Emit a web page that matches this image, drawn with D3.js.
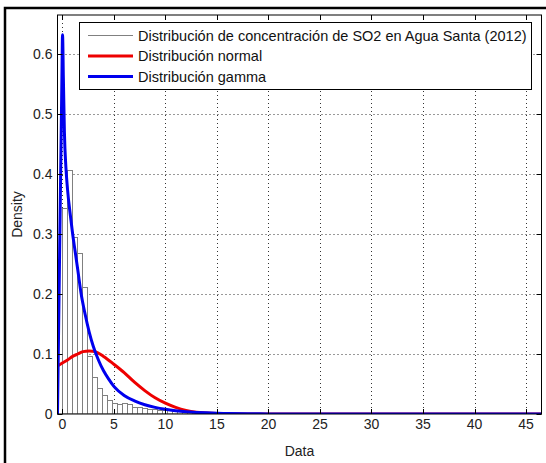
<!DOCTYPE html>
<html>
<head>
<meta charset="utf-8">
<script src="https://cdn.jsdelivr.net/npm/d3@7"></script>
<style>
  html, body { margin: 0; padding: 0; background: #fff; }
  svg { display: block; }
  text { font-family: "Liberation Sans", Arial, sans-serif; }
</style>
</head>
<body>
<svg id="chart" width="546" height="463"></svg>
<script>
// ---------- data ----------
const binStart = 0;
const binWidth = 0.485;
const binHeights = [0.343, 0.406, 0.295, 0.268, 0.211, 0.097, 0.062, 0.044, 0.031, 0.024,
  0.019, 0.016, 0.018, 0.016, 0.012, 0.011, 0.010, 0.009, 0.008, 0.0075,
  0.007, 0.006, 0.005, 0.0045, 0.004, 0.003, 0.0025, 0.002, 0.0015, 0.001,
  0.001, 0.0008, 0.0012, 0.0006, 0.0008, 0.0004];

const normalX = [-0.47, 0, 0.5, 1, 1.5, 2, 2.6, 3.2, 4, 5, 6, 7, 8, 9, 10, 11, 12, 13, 14, 15, 16, 18, 46.5];
const normalY = [0.080, 0.085, 0.090, 0.096, 0.100, 0.104, 0.105, 0.104, 0.096, 0.083, 0.069, 0.053, 0.039, 0.027, 0.018, 0.011, 0.006, 0.003, 0.0016, 0.0008, 0.0003, 0.0001, 0];

const gammaX = [-0.47, -0.05, 0.02, 0.1, 0.2, 0.35, 0.5, 0.75, 1.0, 1.25, 1.5, 1.8, 2.2, 2.6, 3.0, 3.5, 4, 4.5, 5, 6, 7, 8, 9, 10, 11, 12, 13, 14, 15, 16, 18, 20, 46.5];
const gammaY = [0, 0.55, 0.632, 0.56, 0.47, 0.41, 0.375, 0.335, 0.30, 0.27, 0.24, 0.203, 0.167, 0.137, 0.113, 0.09, 0.072, 0.058, 0.046, 0.031, 0.022, 0.0155, 0.011, 0.0078, 0.0055, 0.0038, 0.0027, 0.0019, 0.0013, 0.0009, 0.0004, 0.0002, 0];

const xTicks = [0, 5, 10, 15, 20, 25, 30, 35, 40, 45];
const yTicks = [0, 0.1, 0.2, 0.3, 0.4, 0.5, 0.6];
const legendLabels = ["Distribución de concentración de SO2 en Agua Santa (2012)", "Distribución normal", "Distribución gamma"];
const xLabel = "Data";
const yLabel = "Density";

// ---------- layout ----------
const svg = d3.select("#chart");
const L = 57.5, R = 541.5, T = 15, B = 414;
const x = d3.scaleLinear().domain([-0.47, 46.5]).range([L, R]);
const y = d3.scaleLinear().domain([0, 0.665]).range([B, T]);
const fontSize = 14;
const legendFont = 14.5;

// outer frame
svg.append("rect").attr("x", 0).attr("y", 0).attr("width", 546).attr("height", 463).attr("fill", "#fff");
svg.append("path").attr("d", "M5,470 L5,8 L560,8").attr("fill", "none").attr("stroke", "#000").attr("stroke-width", 2.5);

// axes background
svg.append("rect").attr("x", L).attr("y", T).attr("width", R - L).attr("height", B - T).attr("fill", "#fff");

// grid
const grid = svg.append("g").attr("stroke", "#333").attr("stroke-width", 1).attr("stroke-dasharray", "1,3");
grid.selectAll("line.gx").data(xTicks).join("line")
  .attr("x1", d => Math.round(x(d)) + 0.5).attr("x2", d => Math.round(x(d)) + 0.5)
  .attr("y1", T).attr("y2", B);
grid.selectAll("line.gy").data(yTicks.filter(d => d > 0)).join("line")
  .attr("y1", d => Math.round(y(d)) + 0.5).attr("y2", d => Math.round(y(d)) + 0.5)
  .attr("x1", L).attr("x2", R);

// clip
svg.append("clipPath").attr("id", "clip").append("rect")
  .attr("x", L).attr("y", T).attr("width", R - L).attr("height", B - T);
const plot = svg.append("g").attr("clip-path", "url(#clip)");

// histogram bars
const bins = binHeights.map((h, i) => ({ x0: binStart + i * binWidth, x1: binStart + (i + 1) * binWidth, h }));
plot.selectAll("rect.bar").data(bins).join("rect")
  .attr("x", d => Math.round(x(d.x0)) + 0.5)
  .attr("width", d => Math.round(x(d.x1)) - Math.round(x(d.x0)))
  .attr("y", d => Math.round(y(d.h)) + 0.5)
  .attr("height", d => Math.max(0, B - Math.round(y(d.h)) - 0.5))
  .attr("fill", "#fff").attr("stroke", "#808080").attr("stroke-width", 1);

// curves
const line = d3.line().x(d => x(d[0])).y(d => y(d[1])).curve(d3.curveMonotoneX);
plot.append("path").datum(normalX.map((v, i) => [v, normalY[i]]))
  .attr("d", line).attr("fill", "none").attr("stroke", "#ee0000").attr("stroke-width", 3).attr("stroke-linejoin", "round");
plot.append("path").datum(gammaX.map((v, i) => [v, gammaY[i]]))
  .attr("d", line).attr("fill", "none").attr("stroke", "#0000ee").attr("stroke-width", 3).attr("stroke-linejoin", "round");

// axes box
svg.append("rect").attr("x", L).attr("y", T).attr("width", R - L).attr("height", B - T)
  .attr("fill", "none").attr("stroke", "#000").attr("stroke-width", 1);

// ticks (inward on all sides)
const tk = 5;
const ticks = svg.append("g").attr("stroke", "#000").attr("stroke-width", 1);
xTicks.forEach(d => {
  const px = Math.round(x(d)) + 0.5;
  ticks.append("line").attr("x1", px).attr("x2", px).attr("y1", B).attr("y2", B - tk);
  ticks.append("line").attr("x1", px).attr("x2", px).attr("y1", T).attr("y2", T + tk);
});
yTicks.forEach(d => {
  const py = Math.round(y(d)) + 0.5;
  ticks.append("line").attr("y1", py).attr("y2", py).attr("x1", L).attr("x2", L + tk);
  ticks.append("line").attr("y1", py).attr("y2", py).attr("x1", R).attr("x2", R - tk);
});

// tick labels
svg.append("g").selectAll("text").data(xTicks).join("text")
  .attr("x", d => x(d)).attr("y", B + 15)
  .attr("text-anchor", "middle").attr("font-size", fontSize).attr("fill", "#222")
  .text(d => d3.format("")(d));
svg.append("g").selectAll("text").data(yTicks).join("text")
  .attr("x", L - 5).attr("y", d => y(d) + 5)
  .attr("text-anchor", "end").attr("font-size", fontSize).attr("fill", "#222")
  .text(d => d === 0 ? "0" : d3.format(".1f")(d));

// axis labels
svg.append("text").attr("x", (L + R) / 2).attr("y", 456)
  .attr("text-anchor", "middle").attr("font-size", fontSize).attr("fill", "#222").text(xLabel);
svg.append("text").attr("transform", `translate(22,${(T + B) / 2}) rotate(-90)`)
  .attr("text-anchor", "middle").attr("font-size", fontSize).attr("fill", "#222").text(yLabel);

// legend
const lg = svg.append("g");
lg.append("rect").attr("x", 79.5).attr("y", 22.5).attr("width", 452).attr("height", 67)
  .attr("fill", "#fff").attr("stroke", "#000").attr("stroke-width", 1);
const legendStyles = [{ c: "#808080", w: 1 }, { c: "#ee0000", w: 3 }, { c: "#0000ee", w: 3 }];
legendLabels.forEach((lab, i) => {
  const cy = 35.5 + i * 20.5;
  lg.append("line").attr("x1", 88).attr("x2", 133).attr("y1", cy).attr("y2", cy)
    .attr("stroke", legendStyles[i].c).attr("stroke-width", legendStyles[i].w);
  lg.append("text").attr("x", 138).attr("y", cy + 5).attr("font-size", legendFont).attr("fill", "#111").text(lab);
});
</script>
</body>
</html>
